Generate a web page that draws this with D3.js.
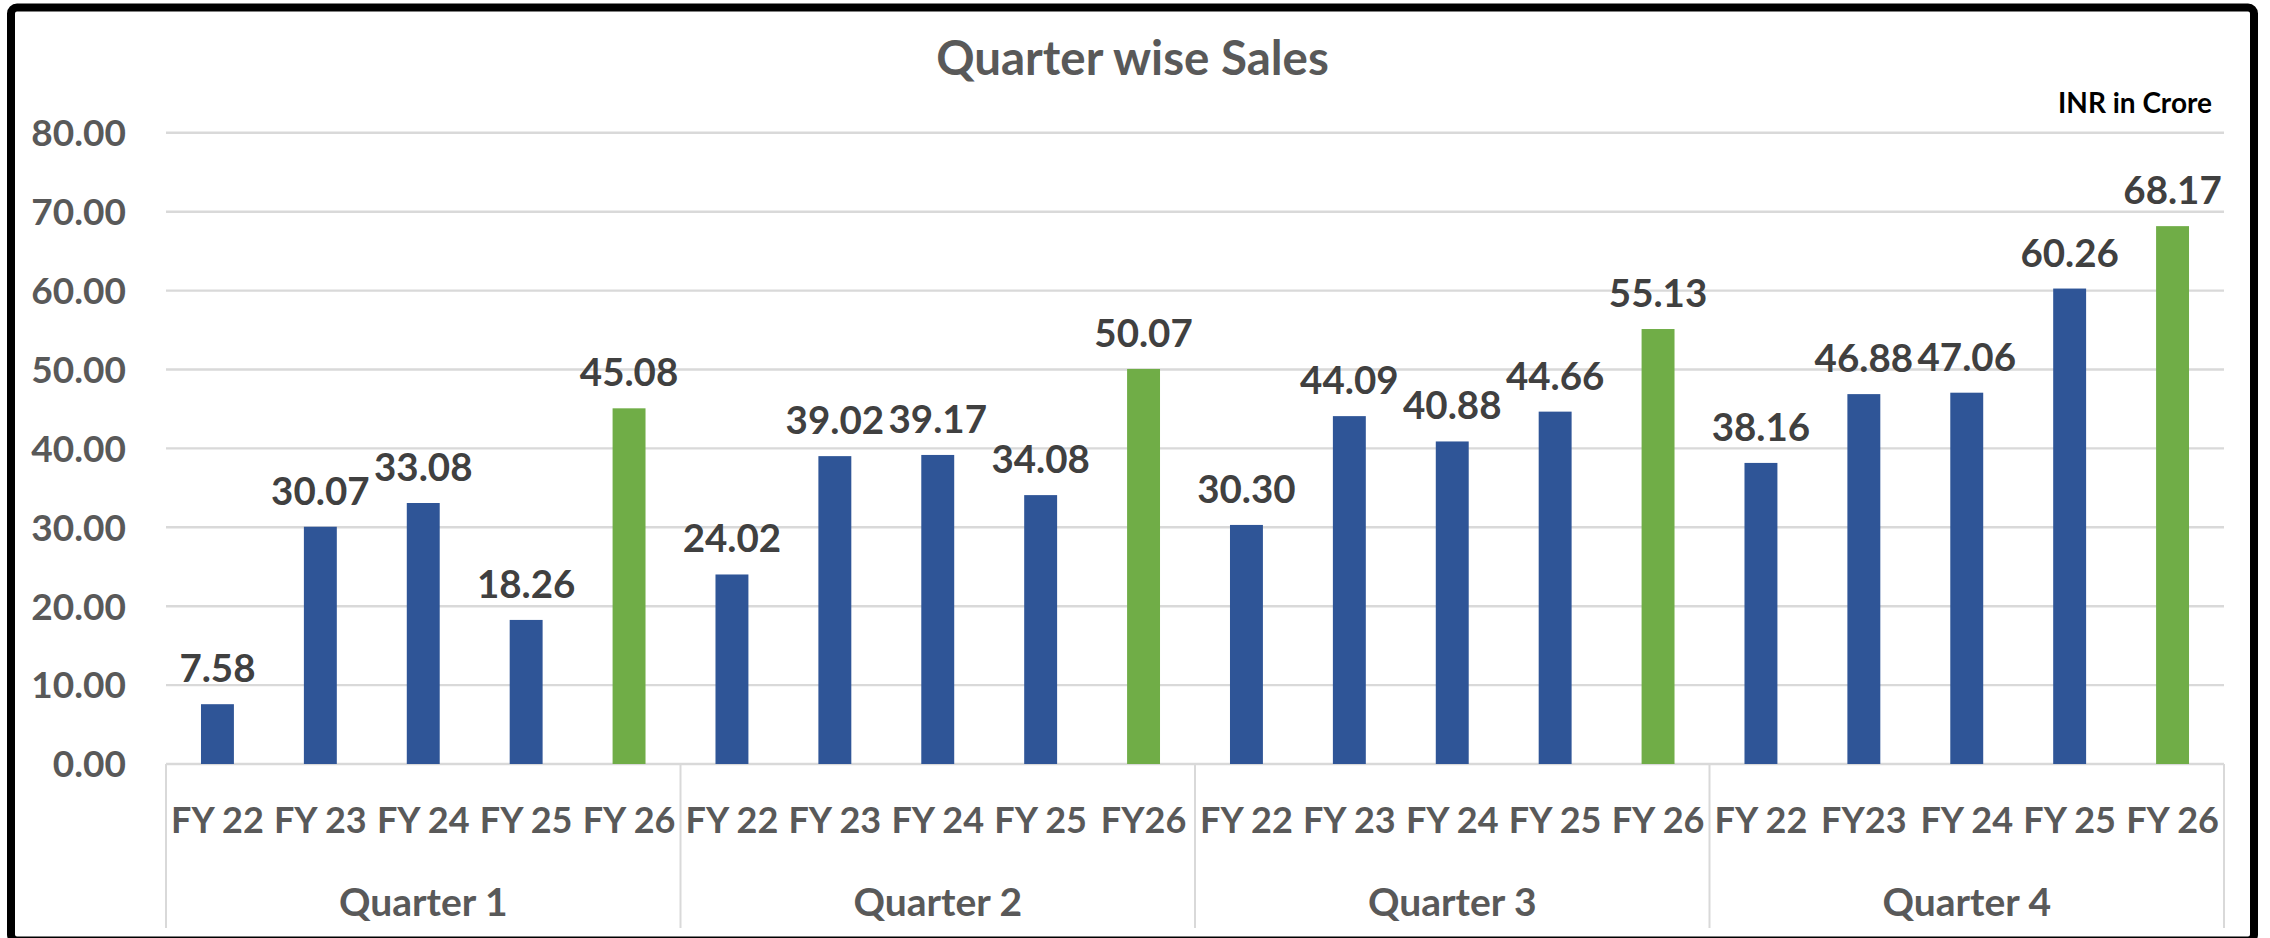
<!DOCTYPE html>
<html>
<head>
<meta charset="utf-8">
<script src="https://cdn.jsdelivr.net/npm/d3@7"></script>
<style>
  body { margin: 0; background: #fff; }
  text { font-family: Lato, "Open Sans", sans-serif; font-weight: bold; }
</style>
</head>
<body>
<div id="holder"></div>
<script>
var width = 2270;
var height = 938;

// data
var quarters = ["Quarter 1", "Quarter 2", "Quarter 3", "Quarter 4"];
var yearLabels = [
  ["FY 22", "FY 23", "FY 24", "FY 25", "FY 26"],
  ["FY 22", "FY 23", "FY 24", "FY 25", "FY26"],
  ["FY 22", "FY 23", "FY 24", "FY 25", "FY 26"],
  ["FY 22", "FY23", "FY 24", "FY 25", "FY 26"]
];
var sales = [
  [7.58, 30.07, 33.08, 18.26, 45.08],
  [24.02, 39.02, 39.17, 34.08, 50.07],
  [30.30, 44.09, 40.88, 44.66, 55.13],
  [38.16, 46.88, 47.06, 60.26, 68.17]
];
var yTicks = [0, 10, 20, 30, 40, 50, 60, 70, 80];

var blue = "#2F5597";
var green = "#70AD47";
var grid = "#D9D9D9";

var plotLeft = 166, plotRight = 2224, plotTop = 132.8, plotBottom = 764;

var svg = d3.select("#holder")
  .append("svg")
  .attr("width", width)
  .attr("height", height);

svg.append("rect")
  .attr("width", width)
  .attr("height", height)
  .attr("fill", "#fff");

var x = d3.scaleBand()
  .domain(quarters)
  .range([plotLeft, plotRight])
  .padding(0);

var xi = d3.scaleBand()
  .domain(d3.range(5))
  .range([0, x.bandwidth()])
  .paddingInner(0.68)
  .paddingOuter(0.34);

var y = d3.scaleLinear()
  .domain([0, 80])
  .range([plotBottom, plotTop]);

// gridlines
svg.append("g")
  .selectAll("line")
  .data(yTicks)
  .enter().append("line")
    .attr("x1", plotLeft)
    .attr("x2", plotRight)
    .attr("y1", d => y(d))
    .attr("y2", d => y(d))
    .attr("stroke", grid)
    .attr("stroke-width", 2.4);

// y labels
svg.append("g")
  .selectAll("text")
  .data(yTicks)
  .enter().append("text")
    .attr("x", 126)
    .attr("y", d => y(d))
    .attr("dy", "0.36em")
    .attr("text-anchor", "end")
    .attr("font-size", 37)
    .attr("fill", "#595959")
    .text(d => d.toFixed(2));

// category separators
svg.append("g")
  .selectAll("line")
  .data(quarters.concat(["end"]))
  .enter().append("line")
    .attr("x1", (d, i) => i < 4 ? x(d) : plotRight)
    .attr("x2", (d, i) => i < 4 ? x(d) : plotRight)
    .attr("y1", plotBottom)
    .attr("y2", 928)
    .attr("stroke", grid)
    .attr("stroke-width", 2);

var groups = svg.append("g")
  .selectAll("g")
  .data(quarters)
  .enter().append("g")
    .attr("transform", d => "translate(" + x(d) + ",0)");

groups.selectAll("rect")
  .data((d, qi) => sales[qi])
  .enter().append("rect")
    .attr("x", (d, i) => xi(i))
    .attr("width", xi.bandwidth())
    .attr("y", d => y(d))
    .attr("height", d => y(0) - y(d))
    .attr("fill", (d, i) => i == 4 ? green : blue);

groups.selectAll("text.val")
  .data((d, qi) => sales[qi])
  .enter().append("text")
    .attr("class", "val")
    .attr("x", (d, i) => xi(i) + xi.bandwidth() / 2)
    .attr("y", d => y(d) - 22)
    .attr("text-anchor", "middle")
    .attr("font-size", 38.5)
    .attr("fill", "#404040")
    .text(d => d.toFixed(2));

groups.selectAll("text.yr")
  .data((d, qi) => yearLabels[qi])
  .enter().append("text")
    .attr("class", "yr")
    .attr("x", (d, i) => xi(i) + xi.bandwidth() / 2)
    .attr("y", 833)
    .attr("text-anchor", "middle")
    .attr("font-size", 36)
    .attr("fill", "#595959")
    .text(d => d);

groups.append("text")
  .attr("x", x.bandwidth() / 2)
  .attr("y", 916)
  .attr("text-anchor", "middle")
  .attr("font-size", 39)
  .attr("fill", "#595959")
  .text(d => d);

// title and unit note
svg.append("text")
  .attr("x", 1132.5)
  .attr("y", 75)
  .attr("text-anchor", "middle")
  .attr("font-size", 47.5)
  .attr("fill", "#595959")
  .text("Quarter wise Sales");

svg.append("text")
  .attr("x", 2212)
  .attr("y", 113)
  .attr("text-anchor", "end")
  .attr("font-size", 28)
  .attr("fill", "#000")
  .text("INR in Crore");

// outer frame
svg.append("rect")
  .attr("x", 11)
  .attr("y", 7.5)
  .attr("width", 2243)
  .attr("height", 933)
  .attr("rx", 6)
  .attr("fill", "none")
  .attr("stroke", "#000")
  .attr("stroke-width", 8);
</script>
</body>
</html>
